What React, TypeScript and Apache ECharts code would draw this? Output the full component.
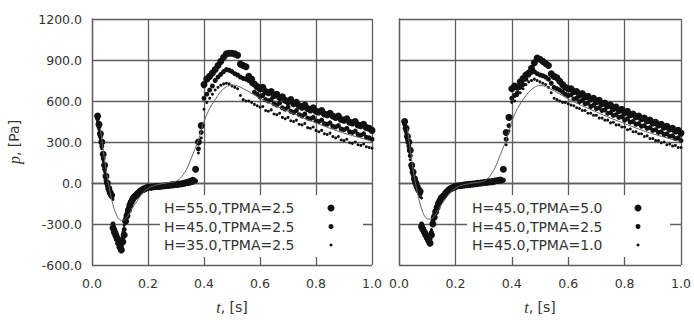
import React, { useEffect, useRef } from "react";
import * as echarts from "echarts";

// time samples (s)
const T = [
  0.02, 0.025, 0.03, 0.035, 0.04, 0.045, 0.05, 0.055, 0.06, 0.065,
  0.07, 0.075, 0.08, 0.085, 0.09, 0.095, 0.1, 0.105, 0.11, 0.115,
  0.12, 0.125, 0.13, 0.135, 0.14, 0.145, 0.15, 0.155, 0.16, 0.165,
  0.17, 0.175, 0.18, 0.185, 0.19, 0.195, 0.2, 0.21, 0.22, 0.23,
  0.24, 0.25, 0.26, 0.27, 0.28, 0.29, 0.3, 0.31, 0.32, 0.33,
  0.34, 0.35, 0.36, 0.37, 0.38, 0.39, 0.4, 0.41, 0.42, 0.43,
  0.44, 0.45, 0.46, 0.47, 0.48, 0.49, 0.5, 0.51, 0.52, 0.53,
  0.54, 0.55, 0.56, 0.57, 0.58, 0.59, 0.6, 0.61, 0.62, 0.63,
  0.64, 0.65, 0.66, 0.67, 0.68, 0.69, 0.7, 0.71, 0.72, 0.73,
  0.74, 0.75, 0.76, 0.77, 0.78, 0.79, 0.8, 0.81, 0.82, 0.83,
  0.84, 0.85, 0.86, 0.87, 0.88, 0.89, 0.9, 0.91, 0.92, 0.93,
  0.94, 0.95, 0.96, 0.97, 0.98, 0.99, 1.0,
];

// Left panel: H=55/45/35, TPMA=2.5
const L_H55 = [
  490, 430, 360, 300, 210, 130, 50, 0, -40, -70,
  -90, -330, -360, -385, -410, -440, -470, -490, -430, -380,
  -280, -240, -200, -165, -140, -120, -105, -95, -85, -75,
  -65, -55, -50, -45, -40, -35, -30, -30, -28, -25,
  -25, -22, -20, -18, -15, -12, -10, -8, -5, 0,
  5, 10, 20, 100, 300, 420, 720, 760, 780, 805,
  830, 860, 890, 920, 945, 950, 950, 945, 935, 870,
  860, 850, 780, 760, 725, 705, 690, 700, 670, 660,
  670, 640, 650, 625, 630, 605, 595, 610, 580, 590,
  565, 555, 570, 545, 535, 550, 525, 520, 530, 505,
  500, 510, 490, 480, 490, 465, 460, 470, 445, 440,
  450, 425, 420, 430, 405, 400, 385,
];
const L_H45 = [
  470, 410, 340, 270, 180, 100, 20, -20, -55, -80,
  -100, -300, -340, -360, -390, -420, -440, -460, -400, -340,
  -260, -220, -185, -150, -130, -110, -95, -85, -75, -65,
  -60, -55, -50, -45, -42, -40, -38, -36, -34, -32,
  -30, -28, -26, -24, -22, -20, -18, -15, -12, -8,
  -5, 0, 5, 15, 250, 370, 620, 650, 680, 710,
  750, 775, 795, 815, 830, 825, 815, 800, 790, 775,
  765, 760, 750, 730, 665, 650, 630, 640, 610, 600,
  610, 580, 570, 585, 550, 540, 555, 525, 515, 530,
  500, 490, 505, 475, 470, 480, 455, 450, 460, 435,
  430, 440, 415, 410, 420, 395, 390, 400, 375, 370,
  380, 355, 350, 360, 335, 330, 320,
];
const L_H35 = [
  450, 390, 320, 250, 160, 80, 10, -30, -65, -90,
  -110, -120, -320, -340, -370, -400, -410, -420, -360, -310,
  -240, -200, -170, -140, -120, -100, -90, -80, -70, -60,
  -55, -50, -48, -45, -42, -40, -40, -38, -36, -34,
  -32, -30, -28, -26, -24, -22, -20, -18, -15, -12,
  -10, -5, 0, 10, 220, 330, 540, 590, 620, 650,
  680, 700, 715, 725, 730, 725, 710, 700, 690, 640,
  610, 600, 600, 590, 575, 565, 555, 560, 530, 525,
  535, 505, 500, 510, 480, 470, 480, 455, 450, 460,
  430, 425, 435, 405, 400, 410, 385, 375, 385, 360,
  355, 365, 340, 330, 340, 315, 310, 320, 295, 290,
  300, 280, 275, 285, 265, 260, 255,
];

// Right panel: H=45, TPMA=5.0/2.5/1.0
const R_T50 = [
  450, 400, 340, 300, 240, 130, 80, 30, 0, -30,
  -50, -60, -320, -340, -360, -380, -400, -420, -440, -380,
  -300, -250, -210, -180, -150, -130, -110, -100, -90, -75,
  -65, -55, -45, -40, -35, -30, -25, -20, -18, -15,
  -12, -10, -8, -5, -2, 0, 3, 5, 8, 10,
  15, 18, 22, 100, 370, 480, 690, 710, 700, 740,
  765, 790, 805, 840, 880, 915, 905, 890, 875, 860,
  800, 780, 770, 745, 720, 700, 690, 690, 670, 670,
  645, 655, 630, 635, 615, 620, 595, 605, 580, 585,
  565, 570, 545, 555, 530, 540, 515, 525, 500, 505,
  485, 490, 470, 475, 455, 460, 440, 445, 425, 430,
  410, 415, 395, 400, 380, 385, 365,
];
const R_T25 = [
  430, 380, 320, 270, 200, 110, 60, 10, -20, -45,
  -60, -80, -300, -330, -350, -370, -390, -400, -410, -360,
  -280, -235, -200, -170, -145, -125, -110, -95, -85, -70,
  -60, -50, -45, -40, -35, -32, -30, -25, -22, -20,
  -18, -15, -12, -10, -8, -5, -2, 0, 3, 5,
  8, 12, 15, 20, 320, 420, 620, 640, 660, 700,
  720, 760, 790, 810, 815, 800, 790, 785, 775, 760,
  730, 700, 690, 680, 665, 650, 640, 645, 615, 620,
  595, 605, 580, 585, 560, 570, 545, 550, 530, 535,
  510, 515, 495, 500, 480, 485, 460, 470, 445, 450,
  430, 435, 415, 420, 400, 405, 385, 390, 370, 375,
  355, 360, 340, 345, 325, 330, 310,
];
const R_T10 = [
  410, 360, 300, 250, 170, 90, 40, -10, -35, -60,
  -75, -100, -110, -310, -330, -360, -370, -380, -390, -340,
  -260, -220, -190, -160, -140, -120, -100, -90, -80, -70,
  -60, -55, -50, -45, -40, -38, -35, -30, -28, -25,
  -22, -20, -18, -15, -12, -10, -8, -5, -2, 0,
  3, 6, 10, 15, 280, 380, 590, 600, 640, 660,
  690, 720, 740, 750, 760, 750, 740, 730, 720, 700,
  660, 620, 610, 600, 590, 590, 580, 570, 565, 550,
  545, 530, 530, 510, 510, 495, 495, 475, 475, 460,
  460, 440, 445, 425, 425, 410, 410, 390, 395, 375,
  375, 360, 360, 340, 345, 325, 325, 310, 310, 295,
  300, 280, 285, 270, 275, 260, 260,
];

// model curves
const MODEL_T = [
  0.03, 0.04, 0.05, 0.06, 0.07, 0.08, 0.09, 0.1,
  0.11, 0.12, 0.13, 0.14, 0.15, 0.16,
  0.18, 0.2, 0.22, 0.25, 0.28,
  0.3, 0.32, 0.34, 0.36, 0.38,
  0.4, 0.42, 0.44, 0.46, 0.48,
  0.5, 0.52, 0.55,
  0.6, 0.65, 0.7, 0.75, 0.8, 0.85, 0.9, 0.95, 1.0,
];
const MODEL_LEFT = [
  400, 240, 100, -20, -120, -195, -245, -270,
  -275, -262, -235, -200, -165, -135,
  -75, -40, -20, -5, 5,
  12, 45, 110, 210, 315,
  450, 545, 610, 670, 705,
  718, 710, 680,
  620, 570, 525, 480, 440, 400, 365, 335, 305,
];
const MODEL_RIGHT = [
  400, 240, 100, -20, -115, -190, -240, -262,
  -265, -255, -230, -195, -160, -130,
  -72, -38, -18, -4, 5,
  12, 45, 110, 210, 315,
  450, 545, 610, 665, 700,
  715, 705, 675,
  615, 565, 520, 475, 435, 395, 360, 330, 300,
];

const LEFT_NAMES = ["H=55.0,TPMA=2.5", "H=45.0,TPMA=2.5", "H=35.0,TPMA=2.5"];
const RIGHT_NAMES = ["H=45.0,TPMA=5.0", "H=45.0,TPMA=2.5", "H=45.0,TPMA=1.0"];
const SIZES = [7, 5, 3];

const TXT = "#333";
const GRID = "#5e5e5e";
const FONT = "DejaVu Sans";

function pairs(xs: number[], ys: number[]) {
  return xs.map((x, i) => [x, ys[i]]);
}

export default function App() {
  const ref = useRef<HTMLDivElement>(null);
  useEffect(() => {
    if (!ref.current) return;
    const chart = echarts.init(ref.current, undefined, { renderer: "svg" });

    const lineStyle = { color: GRID, width: 1.3 };
    const mkX = (gi: number) => ({
      type: "value",
      gridIndex: gi,
      min: 0,
      max: 1,
      interval: 0.2,
      axisLabel: {
        formatter: (v: number) => v.toFixed(1),
        color: TXT,
        fontSize: 12.5,
        fontFamily: FONT,
        margin: 12,
      },
      axisLine: { show: true, lineStyle },
      axisTick: { show: false },
      splitLine: { show: true, lineStyle },
      name: "{i|t}, [s]",
      nameLocation: "middle",
      nameGap: 34,
      nameTextStyle: {
        color: TXT,
        fontSize: 14,
        fontFamily: FONT,
        rich: {
          i: { fontStyle: "italic", fontFamily: "Liberation Serif", fontSize: 16, color: TXT },
        },
      },
    });
    const mkY = (gi: number, labels: boolean) => ({
      type: "value",
      gridIndex: gi,
      min: -600,
      max: 1200,
      interval: 300,
      axisLabel: {
        show: labels,
        formatter: (v: number) => v.toFixed(1),
        color: TXT,
        fontSize: 12.5,
        fontFamily: FONT,
        margin: 10,
      },
      axisLine: { show: true, lineStyle },
      axisTick: { show: false },
      splitLine: { show: true, lineStyle },
      name: labels ? "{i|p}, [Pa]" : "",
      nameLocation: "middle",
      nameGap: 70,
      nameTextStyle: {
        color: TXT,
        fontSize: 14,
        fontFamily: FONT,
        rich: {
          i: { fontStyle: "italic", fontFamily: "Liberation Serif", fontSize: 16, color: TXT },
        },
      },
    });

    const scatter = (gi: number, name: string, vals: number[], size: number) => ({
      type: "scatter",
      name,
      xAxisIndex: gi,
      yAxisIndex: gi,
      data: pairs(T, vals),
      symbol: "circle",
      symbolSize: size,
      itemStyle: { color: "#111", opacity: 1 },
      z: 2,
    });
    const model = (gi: number, vals: number[]) => ({
      type: "line",
      xAxisIndex: gi,
      yAxisIndex: gi,
      data: pairs(MODEL_T, vals),
      showSymbol: false,
      smooth: 0.3,
      lineStyle: { color: "#666", width: 1 },
      z: 3,
    });

    const legend = (boxLeft: number, textX: number, markX: number, names: string[]) => {
      const rows = [208, 226.5, 245];
      const els: any[] = [
        {
          type: "rect",
          shape: { x: boxLeft, y: 195, width: 203, height: 62 },
          style: { fill: "#fff" },
          z: 100,
        },
      ];
      names.forEach((n, i) => {
        els.push({
          type: "text",
          z: 101,
          style: {
            text: n,
            x: textX,
            y: rows[i],
            fill: TXT,
            font: `14px "${FONT}"`,
            textAlign: "left",
            textVerticalAlign: "middle",
            verticalAlign: "middle",
          },
        });
        els.push({
          type: "circle",
          z: 101,
          shape: { cx: markX, cy: rows[i], r: SIZES[i] / 2 },
          style: { fill: "#111" },
        });
      });
      return els;
    };

    chart.setOption({
      animation: false,
      grid: [
        { left: 92, right: 322, top: 19, bottom: 55 },
        { left: 399, right: 13, top: 19, bottom: 55 },
      ],
      xAxis: [mkX(0), mkX(1)],
      yAxis: [mkY(0, true), mkY(1, false)],
      series: [
        scatter(0, LEFT_NAMES[0], L_H55, SIZES[0]),
        scatter(0, LEFT_NAMES[1], L_H45, SIZES[1]),
        scatter(0, LEFT_NAMES[2], L_H35, SIZES[2]),
        model(0, MODEL_LEFT),
        scatter(1, RIGHT_NAMES[0], R_T50, SIZES[0]),
        scatter(1, RIGHT_NAMES[1], R_T25, SIZES[1]),
        scatter(1, RIGHT_NAMES[2], R_T10, SIZES[2]),
        model(1, MODEL_RIGHT),
      ],
      graphic: [
        ...legend(160, 164, 331, LEFT_NAMES),
        ...legend(467, 472, 638, RIGHT_NAMES),
      ],
    });
    return () => chart.dispose();
  }, []);

  return (
    <div
      ref={ref}
      style={{ position: "fixed", left: 0, top: 0, width: 694, height: 320, background: "#fff" }}
    />
  );
}
